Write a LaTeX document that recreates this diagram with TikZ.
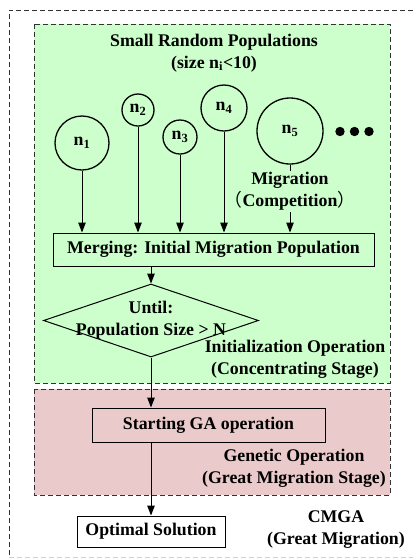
\documentclass[tikz,border=0pt]{standalone}
\usepackage{fontspec}
\setmainfont{Liberation Serif}
\newfontfamily\cjkparen{Noto Sans CJK SC}
\usetikzlibrary{arrows.meta,positioning,shapes.geometric}
\definecolor{cmGreen}{HTML}{CCFFCC}
\definecolor{cmPink}{HTML}{EACACA}
\definecolor{cmDash}{HTML}{333333}
\definecolor{cmFaint}{HTML}{D0D0D0}

\begin{document}
\begin{tikzpicture}[x=1pt,y=-1pt,font=\fontsize{17.8}{22}\selectfont\bfseries,
  pop/.style={circle,draw,line width=1.3pt,inner sep=0pt},
  box/.style={draw,line width=1pt,inner sep=0pt},
  zone/.style={draw=cmDash,line width=1pt,dash pattern=on 5pt off 3pt},
  flow/.style={-{Triangle[length=10pt,width=7.5pt]},line width=1pt},
  tag/.style={align=center,inner sep=1pt}]
\useasboundingbox (0,0) rectangle (413,558);
% outer frame and stage zones
\draw[zone] (413,10) -- (9,10) -- (9,557);
\draw[zone,draw=cmFaint] (9,557) -- (413,557);
\draw[zone,fill=cmGreen] (34,24) rectangle (390,383);
\draw[zone,fill=cmPink] (34,389) rectangle (390,495);
\node[tag] (title) at (214,53) {Small Random Populations\\(size n\textsubscript{i}<10)};
% small populations
\node[pop,minimum size=54pt] (n1) at (82,143) {n\textsubscript{1}};
\node[pop,minimum size=32pt] (n2) at (138,110) {n\textsubscript{2}};
\node[pop,minimum size=34pt] (n3) at (180,137) {n\textsubscript{3}};
\node[pop,minimum size=46pt] (n4) at (224,108) {n\textsubscript{4}};
\node[pop,minimum size=66pt] (n5) at (290,131) {n\textsubscript{5}};
\foreach \i/\x in {1/340,2/354.5,3/369}
  \fill (\x,131.5) circle (4.7pt) coordinate (dot\i);
\node[tag] (mig) at (290,191.5) {Migration\\{\cjkparen\mdseries （}Competition{\cjkparen\mdseries ）}};
% merging and loop check
\node[box,minimum width=321pt,minimum height=33pt] (merge) at (213.5,249.5) {Merging: Initial Migration Population};
\node[diamond,draw,line width=1pt,inner sep=0pt,minimum width=215pt,minimum height=73pt] (check) at (151,320.5) {};
\node[tag] (checktext) at (check.center) {Until:\\Population Size > N};
\node[tag] (init) at (295,359) {Initialization Operation\\(Concentrating Stage)};
% genetic stage
\node[box,minimum width=233pt,minimum height=34pt] (ga) at (208.5,425) {Starting GA operation};
\node[tag] (gen) at (294,468.5) {Genetic Operation\\(Great Migration Stage)};
\node[box,fill=white,minimum width=148pt,minimum height=31pt] (best) at (151,531.5) {Optimal Solution};
\node[tag] (cmga) at (336,530) {CMGA\\(Great Migration)};
% connectors
\foreach \p in {n1,n2,n3,n4}
  \draw[flow] (\p) -- (\p |- merge.north);
\draw[line width=1pt] (n5) -- (mig);
\draw[flow] (mig) -- (mig |- merge.north);
\draw[flow] (merge.south -| check.north) -- (check.north);
\draw[flow] (check.south) -- (check.south |- ga.north);
\draw[flow] (check.south |- ga.south) -- (best.north);
\end{tikzpicture}
\end{document}
